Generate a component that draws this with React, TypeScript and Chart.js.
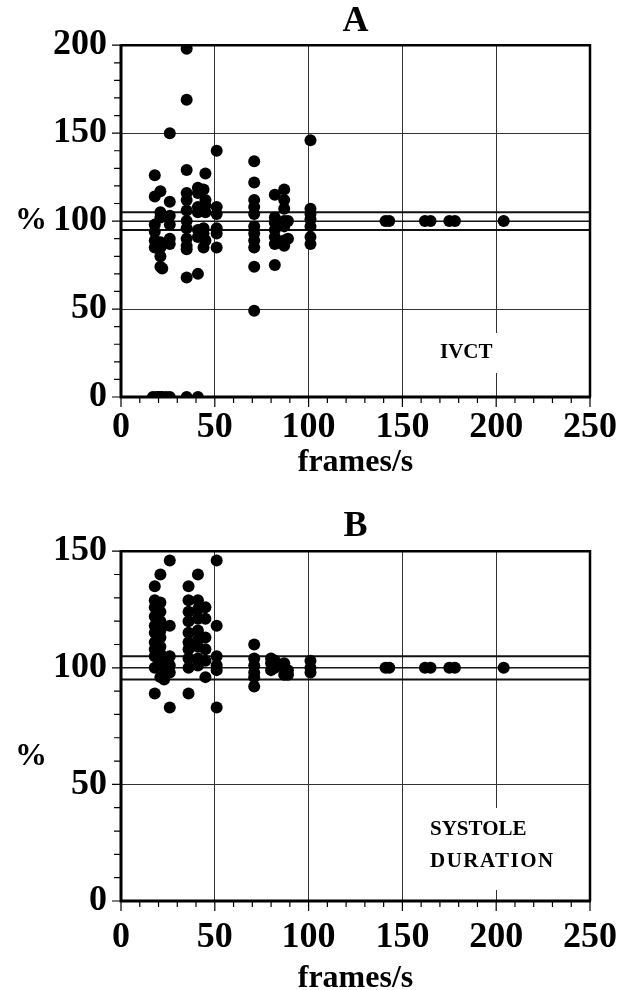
import React, { useEffect, useRef } from "react";
import { Chart, registerables } from "chart.js";

Chart.register(...registerables);

const FONT = "'Liberation Serif', 'Times New Roman', serif";

// Reference band (percent of true value)
const refLevels = [95, 100, 105];

// Panel A — IVCT: frame rates (columns) and measured percentages
const fpsA = [17, 18, 19, 20, 21, 22, 24, 26, 35, 41, 44, 45, 51, 71, 82, 87, 89, 101, 141, 143, 162, 165, 175, 178, 204];
const pctA = [
  [0],
  [126, 114, 98, 94, 89, 85],
  [0],
  [0],
  [117, 105, 102, 88, 85, 80, 74, 0],
  [73, 0],
  [0],
  [150, 111, 103, 98, 90, 87, 0],
  [198, 169, 129, 116, 112, 106, 100, 96, 90, 86, 84, 68, 0],
  [119, 116, 108, 105, 95, 91, 70, 0],
  [118, 96, 93, 85],
  [127, 112, 109, 105, 89],
  [140, 108, 104, 96, 93, 85],
  [134, 122, 112, 108, 104, 97, 93, 89, 85, 74, 49],
  [115, 102, 99, 95, 91, 87, 75],
  [118, 112, 107, 100, 97, 89, 86],
  [100, 90],
  [146, 107, 104, 101, 97, 91, 87],
  [100], [100], [100], [100], [100], [100], [100],
];

// Panel B — systole duration
const fpsB = [18, 21, 23, 26, 36, 41, 45, 51, 71, 80, 82, 87, 89, 101, 141, 143, 162, 165, 175, 178, 204];
const pctB = [
  [135, 129, 126, 122, 118, 115, 111, 108, 105, 100, 89],
  [140, 128, 124, 120, 116, 113, 109, 106, 101, 96],
  [104, 100, 95],
  [146, 118, 105, 101, 98, 83],
  [135, 129, 124, 120, 115, 111, 108, 104, 100, 89],
  [140, 129, 125, 121, 116, 112, 109, 104, 101],
  [126, 121, 113, 108, 103, 96],
  [146, 118, 105, 101, 99, 83],
  [110, 104, 101, 98, 96, 92],
  [104, 102, 99],
  [103, 100],
  [102, 100, 97],
  [99, 97],
  [103, 100, 98],
  [100], [100], [100], [100], [100], [100], [100],
];

const xMax = 250;

type PanelCfg = {
  title: string;
  fps: number[];
  pct: number[][];
  yMax: number;
  label: string[];
  labelX: number;
  labelY: number;
  boxRect: [number, number, number, number];
  percentY: number;
  titlePad: { top: number; bottom: number };
  xAxisHeight: number;
  xTickPad: number;
  xTitlePad: number;
};

function makeConfig(p: PanelCfg): any {
  const pts: { x: number; y: number }[] = [];
  p.fps.forEach((f, i) => p.pct[i].forEach((v) => pts.push({ x: f, y: v })));
  const refWidths = [2, 1.2, 2];
  const refSets = refLevels.map((lvl, i) => ({
    data: [
      { x: 0, y: lvl },
      { x: xMax, y: lvl },
    ],
    showLine: true,
    borderColor: "#111",
    borderWidth: refWidths[i],
    pointRadius: 0,
    fill: false,
  }));

  const decor = {
    id: "decor" + p.title,
    beforeDatasetsDraw(chart: any) {
      const ctx = chart.ctx;
      const [bx, by, bw, bh] = p.boxRect;
      ctx.save();
      ctx.fillStyle = "#fff";
      ctx.fillRect(bx, by, bw, bh);
      ctx.fillStyle = "#000";
      ctx.font = `bold 21px ${FONT}`;
      ctx.textAlign = "left";
      ctx.textBaseline = "middle";
      p.label.forEach((t, i) => {
        (ctx as any).letterSpacing = i === 1 ? "1.5px" : "0px";
        ctx.fillText(t, p.labelX, p.labelY + i * 32);
      });
      (ctx as any).letterSpacing = "0px";
      ctx.restore();
    },
    afterDraw(chart: any) {
      const ctx = chart.ctx;
      const { left, right, top, bottom } = chart.chartArea;
      const xs = chart.scales.x;
      const ys = chart.scales.y;
      ctx.save();
      ctx.strokeStyle = "#000";
      // frame
      ctx.lineWidth = 2.5;
      ctx.beginPath();
      ctx.moveTo(left, top);
      ctx.lineTo(right, top);
      ctx.lineTo(right, bottom);
      ctx.stroke();
      ctx.lineWidth = 3;
      ctx.beginPath();
      ctx.moveTo(left, top - 1);
      ctx.lineTo(left, bottom);
      ctx.lineTo(right + 1, bottom);
      ctx.stroke();
      // tick marks
      ctx.lineWidth = 1.2;
      ctx.beginPath();
      for (let v = 0; v <= p.yMax; v += 10) {
        const y = ys.getPixelForValue(v);
        const len = v % 50 === 0 ? 9 : 7;
        ctx.moveTo(left - len, y);
        ctx.lineTo(left, y);
      }
      for (let v = 0; v <= xMax; v += 10) {
        const x = xs.getPixelForValue(v);
        const len = v % 50 === 0 ? 10 : 6;
        ctx.moveTo(x, bottom);
        ctx.lineTo(x, bottom + len);
      }
      ctx.stroke();
      // % label
      ctx.fillStyle = "#000";
      ctx.font = `bold 32px ${FONT}`;
      ctx.textAlign = "center";
      ctx.textBaseline = "middle";
      ctx.fillText("%", 31, p.percentY);
      ctx.restore();
    },
  };

  return {
    type: "scatter",
    data: {
      datasets: [
        {
          data: pts,
          backgroundColor: "#000",
          borderColor: "#000",
          pointRadius: 6,
          pointBorderWidth: 0,
        },
        ...refSets,
      ],
    },
    options: {
      responsive: false,
      animation: false,
      events: [],
      layout: { padding: { left: 0, right: 40, top: 0, bottom: 0 } },
      plugins: {
        legend: { display: false },
        tooltip: { enabled: false },
        title: {
          display: true,
          text: p.title,
          fullSize: false,
          color: "#000",
          font: { family: FONT, size: 36, weight: "bold", lineHeight: 1.2 },
          padding: p.titlePad,
        },
      },
      scales: {
        x: {
          type: "linear",
          min: 0,
          max: xMax,
          afterFit: (s: any) => {
            s.height = p.xAxisHeight;
            s.paddingLeft = 0;
            s.paddingRight = 0;
          },
          ticks: {
            stepSize: 50,
            color: "#000",
            padding: p.xTickPad,
            maxRotation: 0,
            font: { family: FONT, size: 36, weight: "bold", lineHeight: 1 },
          },
          grid: {
            drawTicks: false,
            lineWidth: 1,
            color: (c: any) => (c.tick && (c.tick.value === 0 || c.tick.value === xMax) ? "rgba(0,0,0,0)" : "#333"),
          },
          border: { display: false },
          title: {
            display: true,
            text: "frames/s",
            color: "#000",
            font: { family: FONT, size: 32, weight: "bold", lineHeight: 1.2 },
            padding: { top: 0, bottom: p.xTitlePad },
          },
        },
        y: {
          type: "linear",
          min: 0,
          max: p.yMax,
          afterFit: (s: any) => {
            s.width = 121;
            s.paddingTop = 0;
            s.paddingBottom = 0;
          },
          ticks: {
            stepSize: 50,
            color: "#000",
            padding: 14,
            font: { family: FONT, size: 36, weight: "bold", lineHeight: 1 },
          },
          grid: {
            drawTicks: false,
            lineWidth: 1,
            color: (c: any) => (c.tick && (c.tick.value === 0 || c.tick.value === p.yMax) ? "rgba(0,0,0,0)" : "#333"),
          },
          border: { display: false },
        },
      },
    },
    plugins: [decor],
  };
}

function Panel({ cfg }: { cfg: PanelCfg }) {
  const ref = useRef<HTMLCanvasElement | null>(null);
  useEffect(() => {
    if (!ref.current) return;
    const chart = new Chart(ref.current, makeConfig(cfg));
    return () => chart.destroy();
  }, [cfg]);
  return <canvas ref={ref} width={630} height={495} style={{ display: "block", width: 630, height: 495 }} />;
}

const panelA: PanelCfg = {
  title: "A",
  fps: fpsA,
  pct: pctA,
  yMax: 200,
  label: ["IVCT"],
  labelX: 440,
  labelY: 353,
  boxRect: [425, 333, 100, 40],
  percentY: 221,
  titlePad: { top: 0, bottom: 2 },
  xAxisHeight: 98,
  xTickPad: 13,
  xTitlePad: 13,
};

const panelB: PanelCfg = {
  title: "B",
  fps: fpsB,
  pct: pctB,
  yMax: 150,
  label: ["SYSTOLE", "DURATION"],
  labelX: 430,
  labelY: 335,
  boxRect: [420, 313, 130, 82],
  percentY: 262,
  titlePad: { top: 10, bottom: 3 },
  xAxisHeight: 89,
  xTickPad: 19,
  xTitlePad: -8,
};

export default function App() {
  return (
    <div style={{ position: "absolute", left: 0, top: 0, width: 630, height: 990, background: "#fff" }}>
      <Panel cfg={panelA} />
      <Panel cfg={panelB} />
    </div>
  );
}
